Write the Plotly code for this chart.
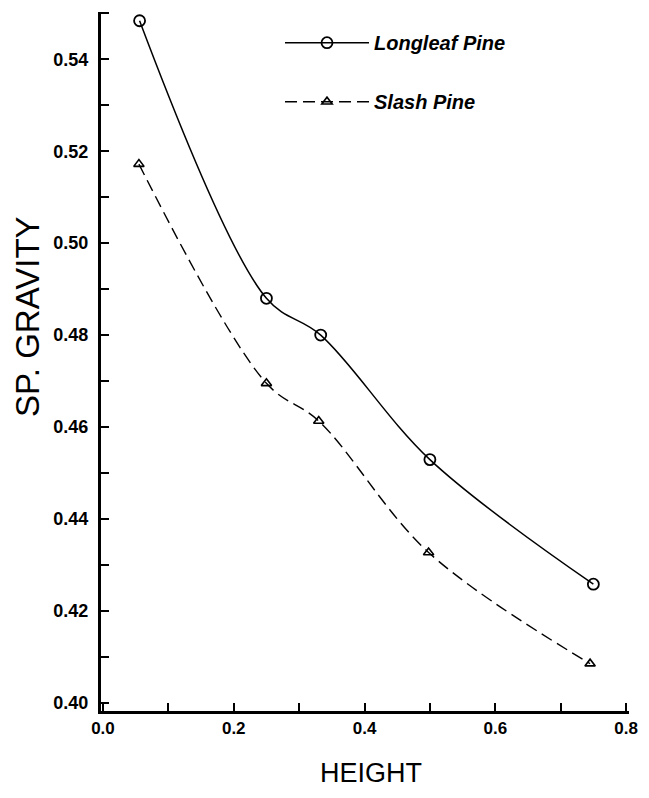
import plotly.graph_objects as go

heights = [0.056, 0.25, 0.333, 0.5, 0.75]
longleaf_sg = [0.5484, 0.4880, 0.4800, 0.4529, 0.4258]
slash_heights = [0.055, 0.25, 0.330, 0.498, 0.745]
slash_sg = [0.5172, 0.4695, 0.4613, 0.4327, 0.4085]

series_names = ["Longleaf Pine", "Slash Pine"]
x_title = "HEIGHT"
y_title = "SP. GRAVITY"

FONT = "Liberation Sans, Arial, sans-serif"

fig = go.Figure()
fig.add_trace(go.Scatter(
    x=heights, y=longleaf_sg, name=series_names[0], legendgroup="a",
    mode="lines+markers", line=dict(color="black", width=1.5, shape="spline", smoothing=1.0),
    marker=dict(symbol="circle-open", size=11, color="black", line=dict(width=1.8)),
))
fig.add_trace(go.Scatter(
    x=slash_heights, y=slash_sg, name=series_names[1], legendgroup="b",
    mode="lines+markers", line=dict(color="black", width=1.4, dash="12px,6px", shape="spline", smoothing=1.0),
    marker=dict(symbol="triangle-up-open", size=9, color="black", line=dict(width=1.6)),
))

fig.update_layout(
    width=649, height=798,
    margin=dict(l=101, r=11, t=12, b=87),
    paper_bgcolor="white", plot_bgcolor="white",
    font=dict(family=FONT, color="black"),
    showlegend=True,
    legend=dict(
        x=0.339, y=0.984, xanchor="left", yanchor="top",
        bgcolor="rgba(0,0,0,0)", traceorder="grouped", tracegroupgap=30,
        font=dict(family=FONT, size=20, weight=700, style="italic", color="black"),
        itemwidth=84,
    ),
    annotations=[
        dict(text=y_title, xref="paper", yref="paper", x=-0.138, y=0.564,
             xanchor="center", yanchor="middle", textangle=-90, showarrow=False,
             font=dict(family=FONT, size=33, color="black")),
        dict(text=x_title, xref="paper", yref="paper", x=0.511, y=-0.088,
             xanchor="center", yanchor="middle", showarrow=False,
             font=dict(family=FONT, size=27, color="black")),
    ],
)

fig.update_xaxes(
    range=[-0.003, 0.8045], showgrid=False, zeroline=False,
    showline=True, linecolor="black", linewidth=2.5,
    ticks="inside", ticklen=8, tickwidth=1.5, tickcolor="black",
    tick0=0, dtick=0.2, tickformat=".1f",
    minor=dict(ticks="inside", ticklen=8, tickwidth=1.5, tickcolor="black", dtick=0.1, showgrid=False),
    tickfont=dict(family=FONT, size=17, weight=700, color="black"),
)
fig.update_yaxes(
    range=[0.3982, 0.5503], showgrid=False, zeroline=False,
    showline=True, linecolor="black", linewidth=3,
    ticks="inside", ticklen=8, tickwidth=1.5, tickcolor="black",
    tick0=0.40, dtick=0.02, tickformat=".2f",
    minor=dict(ticks="inside", ticklen=8, tickwidth=1.5, tickcolor="black", dtick=0.01, showgrid=False),
    tickfont=dict(family=FONT, size=18, weight=700, color="black"),
    ticklabelstandoff=6,
)

fig.write_html("out.html", config={"displayModeBar": False},
               post_script="document.body.style.margin='0';")
